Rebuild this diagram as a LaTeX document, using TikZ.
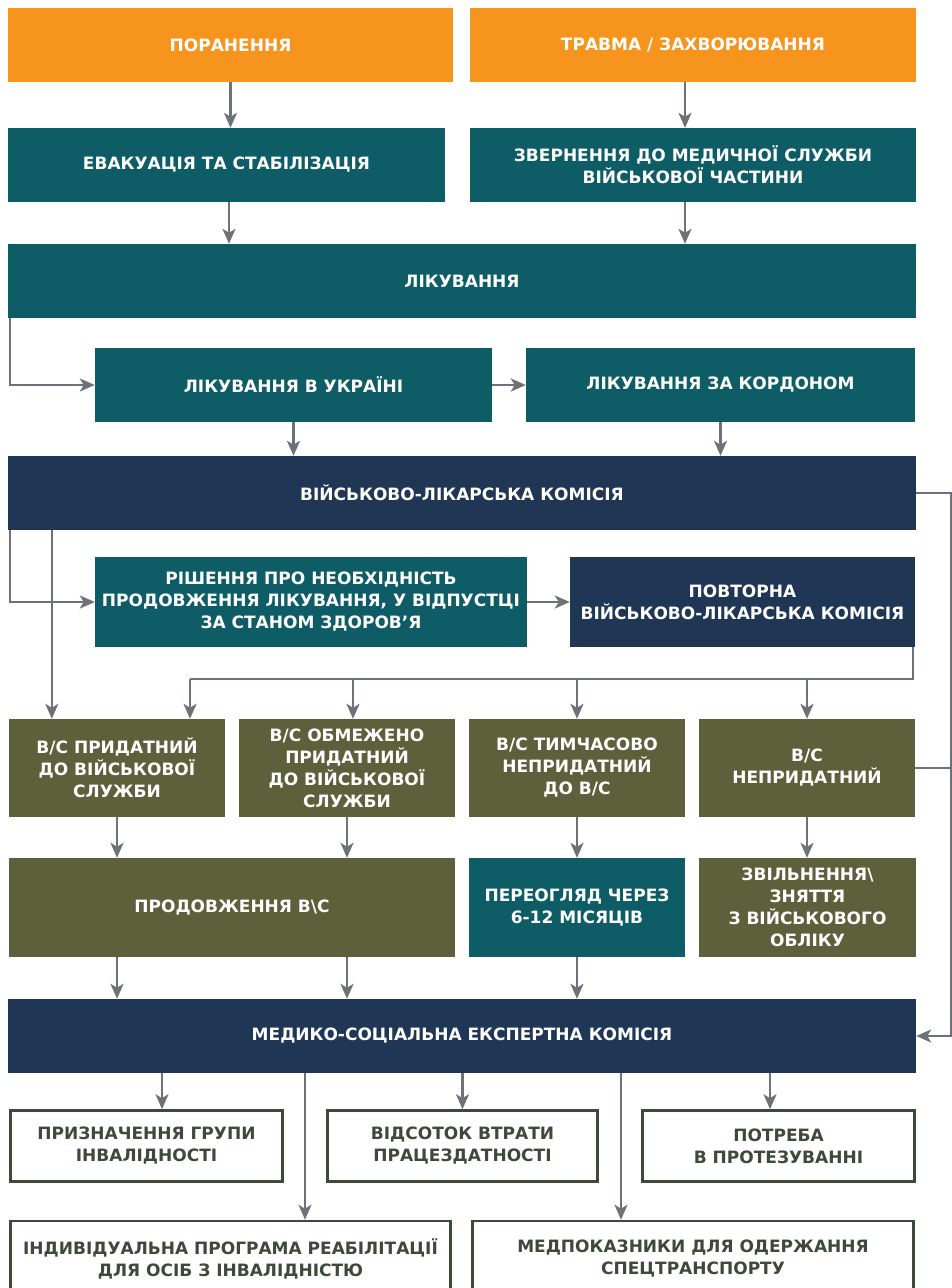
\documentclass[tikz,border=0pt]{standalone}
\usepackage{fontspec}
\setmainfont{DejaVu Sans}
\usetikzlibrary{arrows.meta, positioning, calc}
\definecolor{traumaorange}{HTML}{F7941D}
\definecolor{medteal}{HTML}{0D5C66}
\definecolor{boardnavy}{HTML}{1F3655}
\definecolor{armyolive}{HTML}{5E5F3B}
\definecolor{linegray}{HTML}{6D7178}
\definecolor{outlinedark}{HTML}{3E4A39}
\tikzstyle{stage} = [rectangle, inner sep=2pt, align=center, text=white, font=\bfseries\fontsize{17}{22}\selectfont]
\tikzstyle{cause} = [stage, fill=traumaorange]
\tikzstyle{treat} = [stage, fill=medteal]
\tikzstyle{board} = [stage, fill=boardnavy]
\tikzstyle{verdict} = [stage, fill=armyolive]
\tikzstyle{outcome} = [stage, draw=outlinedark, line width=2.6pt, fill=white, text=outlinedark]
\tikzstyle{arrow} = [line width=2.4pt, draw=linegray, -{Stealth[length=15pt,width=13pt,inset=4pt]}]
\tikzstyle{link} = [line width=2.4pt, draw=linegray]

\begin{document}
\begin{tikzpicture}[x=1pt, y=-1pt]
\useasboundingbox (0,0) rectangle (952,1288);

% Causes
\node (injury) [cause, minimum width=445pt, minimum height=74pt] at (230.5,45) {ПОРАНЕННЯ};
\node (trauma) [cause, minimum width=446pt, minimum height=74pt] at (693,45) {ТРАВМА / ЗАХВОРЮВАННЯ};

% First aid and treatment
\node (evac) [treat, minimum width=437pt, minimum height=74pt] at (226.5,165) {ЕВАКУАЦІЯ ТА СТАБІЛІЗАЦІЯ};
\node (appeal) [treat, minimum width=446pt, minimum height=74pt] at (693,165) {ЗВЕРНЕННЯ ДО МЕДИЧНОЇ СЛУЖБИ\\ВІЙСЬКОВОЇ ЧАСТИНИ};
\node (treatment) [treat, minimum width=908pt, minimum height=74pt] at (462,281) {ЛІКУВАННЯ};
\node (homecare) [treat, minimum width=397pt, minimum height=74pt] at (293.5,385) {ЛІКУВАННЯ В УКРАЇНІ};
\node (abroad) [treat, minimum width=389pt, minimum height=74pt] at (720.5,385) {ЛІКУВАННЯ ЗА КОРДОНОМ};

% Military medical commission
\node (vlk) [board, minimum width=908pt, minimum height=74pt] at (462,493) {ВІЙСЬКОВО-ЛІКАРСЬКА КОМІСІЯ};
\node (extend) [treat, minimum width=432pt, minimum height=90pt] at (311,602) {РІШЕННЯ ПРО НЕОБХІДНІСТЬ\\ПРОДОВЖЕННЯ ЛІКУВАННЯ, У ВІДПУСТЦІ\\ЗА СТАНОМ ЗДОРОВ'Я};
\node (revlk) [board, minimum width=345pt, minimum height=90pt] at (742.5,602) {ПОВТОРНА\\ВІЙСЬКОВО-ЛІКАРСЬКА КОМІСІЯ};

% Verdicts
\node (fit) [verdict, minimum width=216pt, minimum height=98pt] at (117,768) {В/С ПРИДАТНИЙ\\ДО ВІЙСЬКОВОЇ\\СЛУЖБИ};
\node (limited) [verdict, minimum width=216pt, minimum height=98pt] at (347,768) {В/С ОБМЕЖЕНО\\ПРИДАТНИЙ\\ДО ВІЙСЬКОВОЇ\\СЛУЖБИ};
\node (temp) [verdict, minimum width=216pt, minimum height=98pt] at (577,768) {В/С ТИМЧАСОВО\\НЕПРИДАТНИЙ\\ДО В/С};
\node (unfit) [verdict, minimum width=216pt, minimum height=98pt] at (807,768) {В/С\\НЕПРИДАТНИЙ};

\node (continue) [verdict, minimum width=446pt, minimum height=99pt] at (232,907.5) {ПРОДОВЖЕННЯ В\textbackslash С};
\node (review) [treat, minimum width=216pt, minimum height=99pt] at (577,907.5) {ПЕРЕОГЛЯД ЧЕРЕЗ\\6-12 МІСЯЦІВ};
\node (discharge) [verdict, minimum width=217pt, minimum height=99pt] at (807.5,907.5) {ЗВІЛЬНЕННЯ\textbackslash\\ЗНЯТТЯ\\З ВІЙСЬКОВОГО\\ОБЛІКУ};

% Medical and social expert commission
\node (msek) [board, minimum width=908pt, minimum height=74pt] at (462,1036) {МЕДИКО-СОЦІАЛЬНА ЕКСПЕРТНА КОМІСІЯ};
\node (group) [outcome, minimum width=272pt, minimum height=71pt] at (146.5,1146) {ПРИЗНАЧЕННЯ ГРУПИ\\ІНВАЛІДНОСТІ};
\node (percent) [outcome, minimum width=270pt, minimum height=71pt] at (462.5,1146) {ВІДСОТОК ВТРАТИ\\ПРАЦЕЗДАТНОСТІ};
\node (prosth) [outcome, minimum width=272pt, minimum height=71pt] at (778.5,1146) {ПОТРЕБА\\В ПРОТЕЗУВАННІ};
\node (rehab) [outcome, minimum width=440pt, minimum height=76pt] at (230.5,1259) {ІНДИВІДУАЛЬНА ПРОГРАМА РЕАБІЛІТАЦІЇ\\ДЛЯ ОСІБ З ІНВАЛІДНІСТЮ};
\node (transport) [outcome, minimum width=441pt, minimum height=76pt] at (693,1259) {МЕДПОКАЗНИКИ ДЛЯ ОДЕРЖАННЯ\\СПЕЦТРАНСПОРТУ};

\coordinate (bus) at (190,679);

% Connectors
\draw [arrow] (injury.south) -- (injury.south |- evac.north);
\draw [arrow] ([xshift=-8pt]trauma.south) -- ([xshift=-8pt]trauma.south |- appeal.north);
\draw [arrow] ([xshift=2.5pt]evac.south) -- ([xshift=2.5pt]evac.south |- treatment.north);
\draw [arrow] ([xshift=-8pt]appeal.south) -- ([xshift=-8pt]appeal.south |- treatment.north);
\draw [arrow] ([xshift=2pt]treatment.south west) |- (homecare.west);
\draw [arrow] (homecare.east) -- (abroad.west);
\draw [arrow] (homecare.south) -- (homecare.south |- vlk.north);
\draw [arrow] (abroad.south) -- (abroad.south |- vlk.north);

\draw [arrow] ([xshift=2pt]vlk.south west) |- (extend.west);
\draw [arrow] ([xshift=44pt]vlk.south west) -- ([xshift=44pt]vlk.south west |- fit.north);
\draw [arrow] (extend.east) -- (revlk.west);
\draw [link] ([xshift=-2pt]revlk.south east) |- (bus);
\draw [arrow] (bus) -- (bus |- fit.north);
\draw [arrow] ([xshift=6pt]limited.north |- bus) -- ([xshift=6pt]limited.north);
\draw [arrow] (temp.north |- bus) -- (temp.north);
\draw [arrow] (unfit.north |- bus) -- (unfit.north);
\draw [link] (vlk.east) -- ++(35,0) |- (unfit.east);
\draw [arrow] (vlk.east) -- ++(35,0) |- (msek.east);

\draw [arrow] (fit.south) -- (fit.south |- continue.north);
\draw [arrow] (limited.south) -- (limited.south |- continue.north);
\draw [arrow] (temp.south) -- (review.north);
\draw [arrow] (unfit.south) -- (unfit.south |- discharge.north);
\draw [arrow] (continue.south -| fit.south) -- (fit.south |- msek.north);
\draw [arrow] (continue.south -| limited.south) -- (limited.south |- msek.north);
\draw [arrow] (review.south) -- (review.south |- msek.north);

\draw [arrow] ([xshift=15.5pt]group.north |- msek.south) -- ([xshift=15.5pt]group.north);
\draw [arrow] (percent.north |- msek.south) -- (percent.north);
\draw [arrow] ([xshift=-8.5pt]prosth.north |- msek.south) -- ([xshift=-8.5pt]prosth.north);
\draw [arrow] ([xshift=74.5pt]rehab.north |- msek.south) -- ([xshift=74.5pt]rehab.north);
\draw [arrow] ([xshift=-72pt]transport.north |- msek.south) -- ([xshift=-72pt]transport.north);

\end{tikzpicture}
\end{document}
